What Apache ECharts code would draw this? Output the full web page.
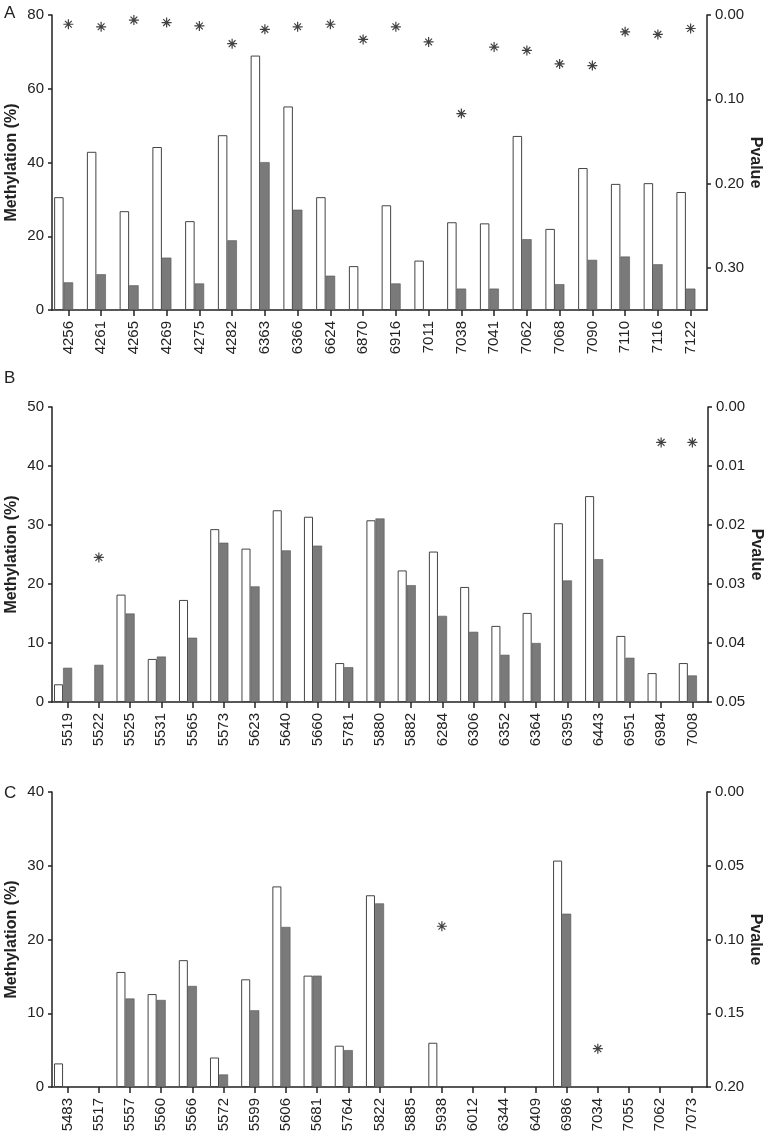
<!DOCTYPE html>
<html>
<head>
<meta charset="utf-8">
<title>Methylation (%) and Pvalue by CpG site</title>
<script src="https://cdn.jsdelivr.net/npm/echarts@6/dist/echarts.min.js"></script>
<style>
  html, body { margin: 0; padding: 0; background: #fff; }
  #chart { width: 770px; height: 1134px; }
</style>
</head>
<body>
<div id="chart"></div>
<script>
// panel A
const catA = ['4256', '4261', '4265', '4269', '4275', '4282', '6363', '6366', '6624', '6870',
  '6916', '7011', '7038', '7041', '7062', '7068', '7090', '7110', '7116', '7122']
const whiteA = [30.6, 42.9, 26.8, 44.2, 24.1, 47.4, 69.0, 55.2, 30.6, 11.9,
  28.4, 13.4, 23.8, 23.5, 47.2, 22.0, 38.5, 34.2, 34.4, 32.0]
const grayA = [7.5, 9.7, 6.7, 14.2, 7.2, 18.9, 40.1, 27.2, 9.3, null,
  7.2, null, 5.8, 5.8, 19.2, 7.0, 13.6, 14.5, 12.4, 5.8]
const pA = [0.011, 0.014, 0.006, 0.009, 0.013, 0.034, 0.017, 0.014, 0.011, 0.029,
  0.014, 0.032, 0.117, 0.038, 0.042, 0.058, 0.060, 0.020, 0.023, 0.016]
const leftTicksA = [0, 20, 40, 60, 80]
const rightTicksA = [0, 0.1, 0.2, 0.3]

// panel B
const catB = ['5519', '5522', '5525', '5531', '5565', '5573', '5623', '5640', '5660', '5781', '5880',
  '5882', '6284', '6306', '6352', '6364', '6395', '6443', '6951', '6984', '7008']
const whiteB = [3.0, null, 18.2, 7.3, 17.3, 29.3, 26.0, 32.5, 31.4, 6.6, 30.8,
  22.3, 25.5, 19.5, 12.9, 15.1, 30.3, 34.9, 11.2, 4.9, 6.6]
const grayB = [5.8, 6.3, 15.0, 7.7, 10.9, 27.0, 19.6, 25.7, 26.5, 5.9, 31.1,
  19.8, 14.6, 11.9, 8.0, 10.0, 20.6, 24.2, 7.5, null, 4.5]
const pB = [null, 0.0255, null, null, null, null, null, null, null, null, null,
  null, null, null, null, null, null, null, null, 0.006, 0.006]
const leftTicksB = [0, 10, 20, 30, 40, 50]
const rightTicksB = [0, 0.01, 0.02, 0.03, 0.04, 0.05]

// panel C
const catC = ['5483', '5517', '5557', '5560', '5566', '5572', '5599', '5606', '5681', '5764', '5822',
  '5885', '5938', '6012', '6344', '6409', '6986', '7034', '7055', '7062', '7073']
const whiteC = [3.2, null, 15.6, 12.6, 17.2, 4.0, 14.6, 27.2, 15.1, 5.6, 26.0,
  null, 6.0, null, null, null, 30.7, null, null, null, null]
const grayC = [null, null, 12.0, 11.8, 13.7, 1.7, 10.4, 21.7, 15.1, 5.0, 24.9,
  null, null, null, null, null, 23.5, null, null, null, null]
const pC = [null, null, null, null, null, null, null, null, null, null, null,
  null, 0.091, null, null, null, null, 0.174, null, null, null]
const leftTicksC = [0, 10, 20, 30, 40]
const rightTicksC = [0, 0.05, 0.10, 0.15, 0.20]

const font = 'Liberation Sans, Arial, sans-serif'
const ink = '#222'
const star = 'path://M0,5L10,5M5,0L5,10M1.6,1.6L8.4,8.4M8.4,1.6L1.6,8.4'

// 每个面板的位置
const panels = [
  { cat: catA, white: whiteA, gray: grayA, p: pA, lt: leftTicksA, rt: rightTicksA, pmax: 0.35, top: 15, width: 655 },
  { cat: catB, white: whiteB, gray: grayB, p: pB, lt: leftTicksB, rt: rightTicksB, pmax: 0.05, top: 407, width: 656 },
  { cat: catC, white: whiteC, gray: grayC, p: pC, lt: leftTicksC, rt: rightTicksC, pmax: 0.20, top: 792, width: 655 }
]

const grid = []
const xAxis = []
const yAxis = []
const series = []

panels.forEach((pn, i) => {
  grid.push({ left: 52, top: pn.top, width: pn.width, height: 295, containLabel: false, outerBoundsMode: 'none' })
  xAxis.push({
    type: 'category',
    gridIndex: i,
    data: pn.cat,
    axisLine: { show: true, lineStyle: { color: ink, width: 1.5 } },
    axisTick: { show: true, alignWithLabel: true, interval: 0, length: 6, lineStyle: { color: ink, width: 1.5 } },
    axisLabel: { interval: 0, rotate: 90, margin: 11, fontSize: 15, color: ink, fontFamily: font },
    splitLine: { show: false }
  })
  const lmax = pn.lt[pn.lt.length - 1]
  yAxis.push({
    type: 'value',
    gridIndex: i,
    position: 'left',
    min: 0,
    max: lmax,
    interval: pn.lt[1] - pn.lt[0],
    name: 'Methylation (%)',
    nameLocation: 'middle',
    nameGap: 32,
    nameRotate: 90,
    nameMoveOverlap: false,
    nameTextStyle: { fontSize: 16, fontWeight: 'bold', color: ink, fontFamily: font },
    axisLine: { show: true, lineStyle: { color: ink, width: 1.5 } },
    axisTick: { show: true, length: 4, lineStyle: { color: ink, width: 1.5 } },
    axisLabel: { margin: 8, fontSize: 15, color: ink, fontFamily: font },
    splitLine: { show: false }
  })
  yAxis.push({
    type: 'value',
    gridIndex: i,
    position: 'right',
    inverse: true,
    min: 0,
    max: pn.pmax,
    name: 'Pvalue',
    nameLocation: 'middle',
    nameGap: 40,
    nameRotate: -90,
    nameMoveOverlap: false,
    nameTextStyle: { fontSize: 16, fontWeight: 'bold', color: ink, fontFamily: font },
    axisLine: { show: true, lineStyle: { color: ink, width: 1.5 } },
    axisTick: { show: true, length: 4, customValues: pn.rt, lineStyle: { color: ink, width: 1.5 } },
    axisLabel: {
      margin: 8, fontSize: 15, color: ink, fontFamily: font,
      customValues: pn.rt,
      formatter: v => v.toFixed(2)
    },
    splitLine: { show: false }
  })
  series.push({
    type: 'bar',
    xAxisIndex: i,
    yAxisIndex: i * 2,
    data: pn.white,
    barGap: '0%',
    barCategoryGap: '13%',
    itemStyle: { color: '#fff', borderColor: '#444', borderWidth: 1 }
  })
  series.push({
    type: 'bar',
    xAxisIndex: i,
    yAxisIndex: i * 2,
    data: pn.gray,
    barGap: '0%',
    barCategoryGap: '13%',
    itemStyle: { color: '#7a7a7a', borderColor: '#555', borderWidth: 0.6 }
  })
  // 空的第三个柱位 (原图柱子偏左)
  series.push({
    type: 'bar',
    xAxisIndex: i,
    yAxisIndex: i * 2,
    data: [],
    barGap: '0%',
    barCategoryGap: '13%',
    silent: true
  })
  series.push({
    type: 'scatter',
    xAxisIndex: i,
    yAxisIndex: i * 2 + 1,
    data: pn.p,
    symbol: star,
    symbolSize: 10,
    itemStyle: { color: 'transparent', borderColor: '#111', borderWidth: 1.2 }
  })
})

const myChart = echarts.init(document.getElementById('chart'))
myChart.setOption({
  animation: false,
  backgroundColor: '#fff',
  textStyle: { fontFamily: font },
  graphic: [
    { type: 'text', left: 4, top: 5, style: { text: 'A', fontSize: 17, fill: ink, fontFamily: font } },
    { type: 'text', left: 4, top: 370, style: { text: 'B', fontSize: 17, fill: ink, fontFamily: font } },
    { type: 'text', left: 4, top: 785, style: { text: 'C', fontSize: 17, fill: ink, fontFamily: font } }
  ],
  grid: grid,
  xAxis: xAxis,
  yAxis: yAxis,
  series: series
})
</script>
</body>
</html>
